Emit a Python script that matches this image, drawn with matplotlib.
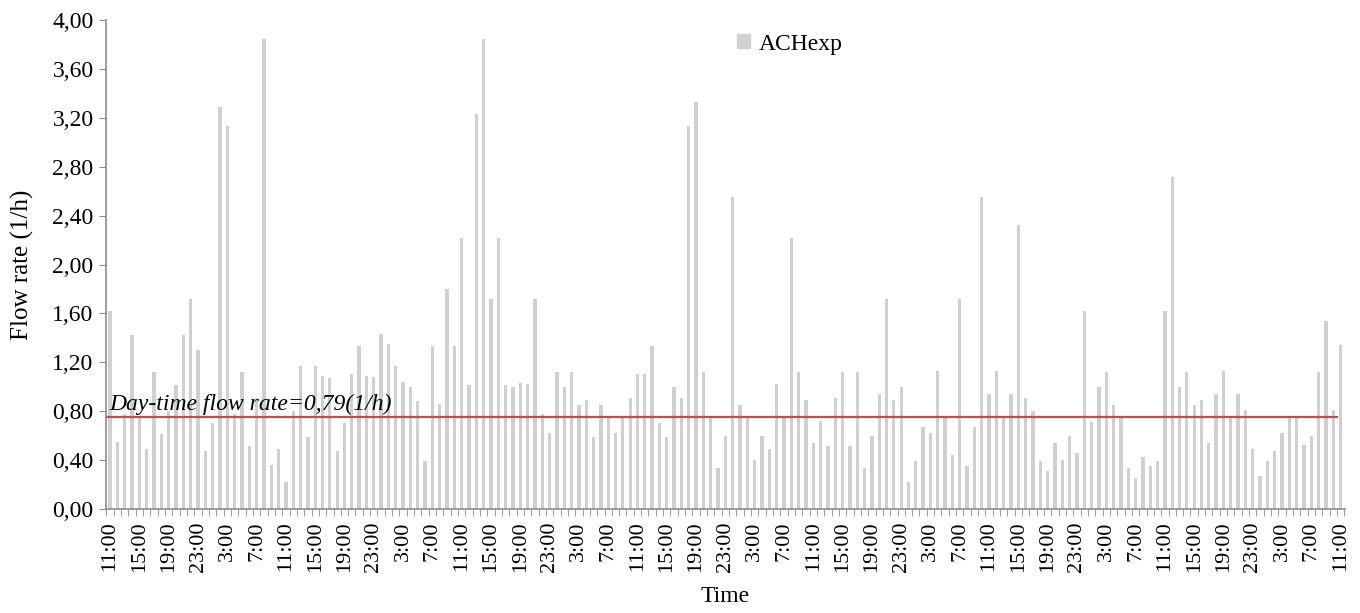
import numpy as np
from matplotlib import pyplot as plt
from matplotlib.patches import Patch

# hourly air change rate, 11:00 day 1 -> 11:00 day 8
ach_exp = [
    1.62, 0.55, 0.78, 1.42, 0.76, 0.49, 1.12, 0.61, 0.80, 1.01,
    1.42, 1.72, 1.30, 0.47, 0.70, 3.29, 3.13, 0.78, 1.12, 0.51,
    0.91, 3.85, 0.36, 0.49, 0.22, 0.80, 1.17, 0.59, 1.17, 1.09,
    1.07, 0.47, 0.70, 1.10, 1.33, 1.09, 1.08, 1.43, 1.35, 1.17,
    1.04, 1.00, 0.88, 0.39, 1.33, 0.86, 1.80, 1.33, 2.22, 1.01,
    3.23, 3.85, 1.72, 2.22, 1.01, 1.00, 1.03, 1.02, 1.72, 0.78,
    0.62, 1.12, 1.00, 1.12, 0.85, 0.89, 0.59, 0.85, 0.74, 0.62,
    0.74, 0.91, 1.10, 1.10, 1.33, 0.70, 0.59, 1.00, 0.91, 3.13,
    3.33, 1.12, 0.74, 0.33, 0.60, 2.55, 0.85, 0.74, 0.40, 0.60,
    0.49, 1.02, 0.74, 2.22, 1.12, 0.89, 0.54, 0.72, 0.51, 0.91,
    1.12, 0.51, 1.12, 0.33, 0.60, 0.94, 1.72, 0.89, 1.00, 0.22,
    0.39, 0.67, 0.62, 1.13, 0.74, 0.44, 1.72, 0.35, 0.67, 2.55,
    0.94, 1.13, 0.74, 0.94, 2.32, 0.91, 0.80, 0.39, 0.31, 0.54,
    0.40, 0.60, 0.46, 1.62, 0.71, 1.00, 1.12, 0.85, 0.74, 0.33,
    0.25, 0.42, 0.35, 0.39, 1.62, 2.72, 1.00, 1.12, 0.85, 0.89,
    0.54, 0.94, 1.13, 0.74, 0.94, 0.81, 0.49, 0.27, 0.39, 0.47,
    0.62, 0.74, 0.74, 0.52, 0.60, 1.12, 1.54, 0.81, 1.34,
]

# one label every 4 hours
day_labels = ["11:00", "15:00", "19:00", "23:00", "3:00", "7:00"]
time_labels = day_labels * 7 + ["11:00"]

day_mean = 0.75
day_mean_text = "Day-time flow rate=0,79(1/h)"
y_ticks = [0.0, 0.4, 0.8, 1.2, 1.6, 2.0, 2.4, 2.8, 3.2, 3.6, 4.0]

plt.rcParams['font.family'] = ['Liberation Serif', 'DejaVu Serif']

fig = plt.figure(figsize=(13.6, 6.13), dpi=100)
ax = fig.add_axes([0.078, 0.170, 0.911, 0.797])

x = np.arange(len(ach_exp))
ax.bar(x, ach_exp, width=0.45, color='#d0d0d0')
ax.hlines(day_mean, -0.5, len(ach_exp) - 1.4, color='#c0504d', lw=1.6)
ax.text(-0.1, day_mean + 0.02, day_mean_text, fontsize=17, style='italic',
        ha='left', va='bottom')

ax.set_xlim(-0.55, len(ach_exp) - 0.4)
ax.set_ylim(0, 4)
ax.set_yticks(y_ticks)
ax.set_yticklabels([f"{v:.2f}".replace('.', ',') for v in y_ticks], fontsize=17)
ax.set_xticks(np.arange(0, len(ach_exp), 4))
ax.set_xticklabels(time_labels, rotation=90, fontsize=16)
ax.set_xticks(np.arange(-0.5, len(ach_exp), 1), minor=True)

for side in ['top', 'right']:
    ax.spines[side].set_visible(False)
for side in ['left', 'bottom']:
    ax.spines[side].set_color('#8c8c8c')
    ax.spines[side].set_linewidth(1.2)
ax.tick_params(axis='y', length=5, color='#8c8c8c', pad=4)
ax.tick_params(axis='x', which='major', length=0, pad=9)
ax.tick_params(axis='x', which='minor', length=5, color='#8c8c8c')

ax.set_ylabel('Flow rate (1/h)', fontsize=18, labelpad=13)
ax.set_xlabel('Time', fontsize=17, labelpad=10)

fig.legend(handles=[Patch(color='#d0d0d0')], labels=['ACHexp'],
           loc='center left', bbox_to_anchor=(0.526, 0.928), frameon=False,
           fontsize=17, handlelength=0.55, handleheight=0.55, handletextpad=0.4)

fig.savefig('out.png', dpi=100)
